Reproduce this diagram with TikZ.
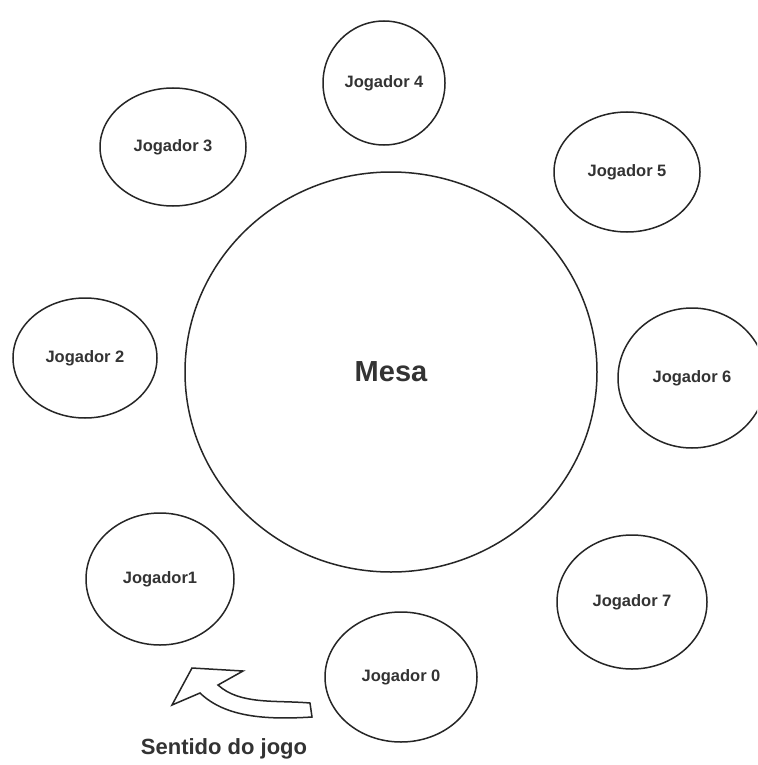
\documentclass[tikz,border=0pt]{standalone}
\usepackage{fontspec}
\setmainfont{Liberation Sans}
\usetikzlibrary{shapes.geometric}
\tikzset{
  seat/.style={draw=black!85, line width=1.5pt, ellipse, inner sep=0pt, text=black!80, font=\fontsize{16.5}{18}\selectfont\bfseries},
}
\begin{document}
\begin{tikzpicture}[x=1pt,y=-1pt]
\clip (0,0) rectangle (757,765);
\fill[white] (0,0) rectangle (757,765);
\node[seat, minimum width=412pt, minimum height=400pt, font=\fontsize{29}{32}\selectfont\bfseries] (mesa) at (391,372) {Mesa};
\node[seat, minimum width=122pt, minimum height=124pt] (j4) at (384,83) {Jogador 4};
\node[seat, minimum width=146pt, minimum height=118pt] (j3) at (173,147) {Jogador 3};
\node[seat, minimum width=146pt, minimum height=120pt] (j5) at (627,172) {Jogador 5};
\node[seat, minimum width=144pt, minimum height=120pt] (j2) at (85,358) {Jogador 2};
\node[seat, minimum width=148pt, minimum height=140pt] (j6) at (692,378) {Jogador 6};
\node[seat, minimum width=148pt, minimum height=132pt] (j1) at (160,579) {Jogador1};
\node[seat, minimum width=150pt, minimum height=134pt] (j7) at (632,602) {Jogador 7};
\node[seat, minimum width=152pt, minimum height=130pt] (j0) at (401,677) {Jogador 0};
\coordinate (tip) at (172,705);
\draw[black!85, line width=1.5pt, line join=miter] (tip) -- (192,668) -- (243,671) -- (218,685)
  .. controls (240,705) and (275,700) .. (310,703) -- (312,717)
  .. controls (265,720) and (225,717) .. (200,693) -- cycle;
\node[text=black!80, font=\fontsize{22}{25}\selectfont\bfseries] (sent) at (224,749) {Sentido do jogo};
\end{tikzpicture}
\end{document}
